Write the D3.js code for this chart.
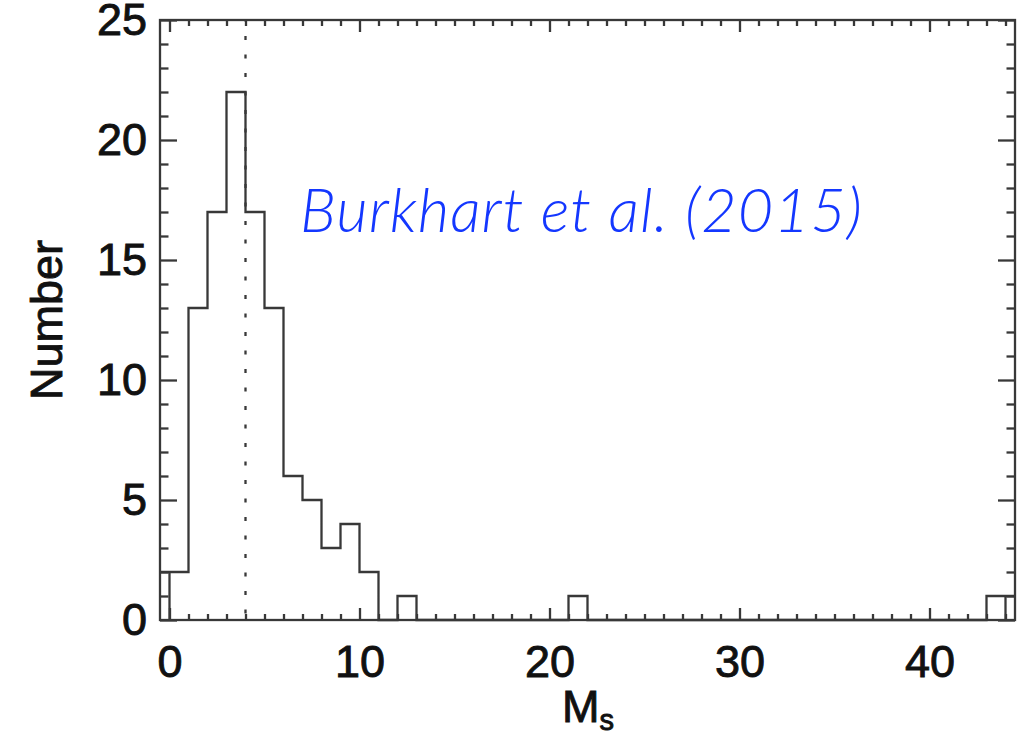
<!DOCTYPE html>
<html>
<head>
<meta charset="utf-8">
<script src="https://cdn.jsdelivr.net/npm/d3@7"></script>
<style>
  html, body { margin: 0; padding: 0; background: #fff; }
  svg { display: block; }
  .tick text, .title {
    font-family: "Liberation Sans", Arial, sans-serif; font-size: 45px;
    fill: #111; stroke: #111; stroke-width: 0.9px; paint-order: stroke;
  }
</style>
</head>
<body>
<svg id="chart" width="1031" height="736"></svg>
<script>
// Histogram of sonic Mach numbers, unit-width bins [start, start + 1)
const binStart = [0, 1, 2, 3, 4, 5, 6, 7, 8, 9, 10, 11, 12, 13, 14, 15, 16, 17, 18, 19, 20, 21,
                  22, 23, 24, 25, 26, 27, 28, 29, 30, 31, 32, 33, 34, 35, 36, 37, 38, 39, 40, 41, 42, 43];
const counts   = [2, 13, 17, 22, 17, 13, 6, 5, 3, 4, 2, 0, 1, 0, 0, 0, 0, 0, 0, 0, 0, 1,
                  0, 0, 0, 0, 0, 0, 0, 0, 0, 0, 0, 0, 0, 0, 0, 0, 0, 0, 0, 0, 0, 1];
const xMajorTicks = [0, 10, 20, 30, 40];
const yMajorTicks = [0, 5, 10, 15, 20, 25];
const xDomain = [-0.5, 44.5];
const yDomain = [0, 25];
const medianMs = 4;
const annotation = "Burkhart et al. (2015)";

const svg = d3.select("#chart");
const plot = { left: 160, right: 1015, top: 20, bottom: 620 };

const x = d3.scaleLinear().domain(xDomain).range([plot.left, plot.right]);
const y = d3.scaleLinear().domain(yDomain).range([plot.bottom, plot.top]);

const xMinor = d3.range(Math.ceil(xDomain[0]), Math.floor(xDomain[1]) + 1).filter(v => !xMajorTicks.includes(v));
const yMinor = d3.range(yDomain[0], yDomain[1] + 1).filter(v => !yMajorTicks.includes(v));

const axisColor = "#383838";
const lineWidth = 2.3;
function styleAxis(g) {
  g.select(".domain").remove();
  g.selectAll(".tick line").attr("stroke", axisColor).attr("stroke-width", lineWidth);
}

// bottom axis: major ticks with labels, minor ticks without
svg.append("g").attr("transform", `translate(0,${plot.bottom})`)
  .call(d3.axisBottom(x).tickValues(xMajorTicks).tickSize(-12).tickPadding(25).tickFormat(d3.format("d")))
  .call(styleAxis);
svg.append("g").attr("transform", `translate(0,${plot.bottom})`)
  .call(d3.axisBottom(x).tickValues(xMinor).tickSize(-6).tickFormat(""))
  .call(styleAxis);
// top axis (mirrored ticks)
svg.append("g").attr("transform", `translate(0,${plot.top})`)
  .call(d3.axisTop(x).tickValues(xMajorTicks).tickSize(-12).tickFormat(""))
  .call(styleAxis);
svg.append("g").attr("transform", `translate(0,${plot.top})`)
  .call(d3.axisTop(x).tickValues(xMinor).tickSize(-6).tickFormat(""))
  .call(styleAxis);
// left axis
svg.append("g").attr("transform", `translate(${plot.left},0)`)
  .call(d3.axisLeft(y).tickValues(yMajorTicks).tickSize(-17).tickPadding(13).tickFormat(d3.format("d")))
  .call(styleAxis);
svg.append("g").attr("transform", `translate(${plot.left},0)`)
  .call(d3.axisLeft(y).tickValues(yMinor).tickSize(-8.5).tickFormat(""))
  .call(styleAxis);
// right axis
svg.append("g").attr("transform", `translate(${plot.right},0)`)
  .call(d3.axisRight(y).tickValues(yMajorTicks).tickSize(-17).tickFormat(""))
  .call(styleAxis);
svg.append("g").attr("transform", `translate(${plot.right},0)`)
  .call(d3.axisRight(y).tickValues(yMinor).tickSize(-8.5).tickFormat(""))
  .call(styleAxis);

// histogram outline drawn as a step line; first and last levels extend to the frame
const stepPts = binStart.map((s, i) => [s, counts[i]]);
stepPts[0] = [xDomain[0], counts[0]];
stepPts.push([xDomain[1], counts[counts.length - 1]]);
const step = d3.line()
  .x(d => x(d[0]))
  .y(d => y(d[1]))
  .curve(d3.curveStepAfter);
svg.append("path")
  .attr("d", step(stepPts))
  .attr("fill", "none")
  .attr("stroke", axisColor)
  .attr("stroke-width", lineWidth);

// closing edges of the first and last bins
const firstEdge = binStart[0];
const lastEdge = binStart[binStart.length - 1] + 1;
[[firstEdge, counts[0]], [lastEdge, counts[counts.length - 1]]].forEach(([xe, c]) => {
  svg.append("line")
    .attr("x1", x(xe)).attr("x2", x(xe))
    .attr("y1", y(0)).attr("y2", y(c))
    .attr("stroke", axisColor).attr("stroke-width", lineWidth);
});

// median marker
svg.append("line")
  .attr("x1", x(medianMs)).attr("x2", x(medianMs))
  .attr("y1", y(yDomain[1])).attr("y2", y(0))
  .attr("stroke", axisColor).attr("stroke-width", lineWidth)
  .attr("stroke-dasharray", "4 14.5")
  .attr("stroke-dashoffset", -16);

// plot frame
svg.append("rect")
  .attr("x", plot.left).attr("y", plot.top)
  .attr("width", plot.right - plot.left).attr("height", plot.bottom - plot.top)
  .attr("fill", "none").attr("stroke", axisColor).attr("stroke-width", lineWidth);

// axis titles
svg.append("text")
  .attr("class", "title")
  .attr("transform", `translate(62,${(plot.top + plot.bottom) / 2}) rotate(-90)`)
  .attr("text-anchor", "middle")
  .text("Number");

const xt = svg.append("text")
  .attr("class", "title")
  .attr("x", 562).attr("y", 722);
xt.append("tspan").text("M");
xt.append("tspan").attr("font-size", 29).attr("dy", 8).text("s");

// citation
svg.append("text")
  .attr("x", 300).attr("y", 232)
  .attr("font-family", "Lato, 'Open Sans', sans-serif")
  .attr("font-style", "italic")
  .attr("font-weight", 300)
  .attr("font-size", 61)
  .attr("fill", "#1437ff")
  .attr("textLength", 562)
  .attr("lengthAdjust", "spacing")
  .text(annotation);
</script>
</body>
</html>
